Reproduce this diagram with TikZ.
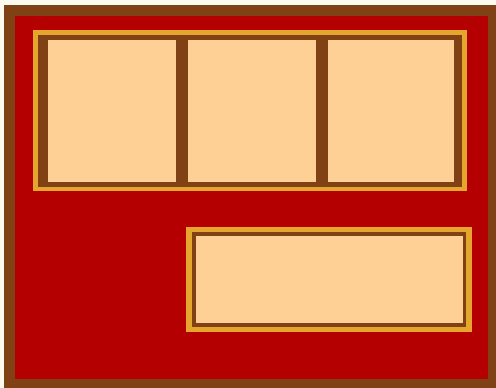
\documentclass[tikz,border=0pt]{standalone}
\definecolor{bgc}{RGB}{253,250,240}
\definecolor{brn}{RGB}{128,66,20}
\definecolor{redc}{RGB}{180,0,0}
\definecolor{gld}{RGB}{230,165,45}
\definecolor{pch}{RGB}{254,208,150}
\tikzset{
  lay/.style={draw=none},
}
\begin{document}
\begin{tikzpicture}[x=1pt,y=-1pt]
\useasboundingbox (0,0) rectangle (496,388);
\fill[bgc] (0,0) rectangle (496,388);
% outer frame
\fill[brn] (4,5) rectangle (496,388);
\fill[redc] (15,16) rectangle (488,379);
% top container
\fill[gld] (33,30) rectangle (467,191);
\fill[brn] (38,35) rectangle (462,187);
\fill[pch] (48,40) rectangle (176,182);
\fill[pch] (188,40) rectangle (316,182);
\fill[pch] (328,40) rectangle (454,182);
% lower box
\fill[gld] (186,227) rectangle (472,332);
\fill[brn] (192,232) rectangle (466,327);
\fill[pch] (196,236) rectangle (463,323);
\end{tikzpicture}
\end{document}
